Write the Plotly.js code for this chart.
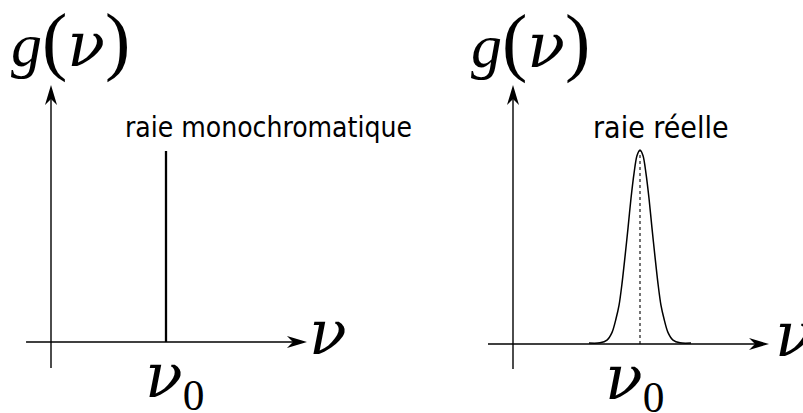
<!DOCTYPE html>
<html>
<head>
<meta charset="utf-8">
<script src="https://cdn.plot.ly/plotly-3.0.1.min.js"></script>
<style>
  html, body { margin: 0; padding: 0; background: #fff; }
  #chart { width: 803px; height: 413px; }
</style>
</head>
<body>
<div id="chart"></div>
<script>
// Line profiles g(nu): an ideal monochromatic line and a real, broadened line.
// Frequencies are in units of nu0, heights in units of the peak value.
const nu0 = 1;
const peak = 1;

// Monochromatic line: a single frequency
const monoNu = [nu0, nu0];
const monoG = [0, peak];

// Real line: profile sampled across the line
const realNu = [0.598, 0.685, 0.740, 0.780, 0.811, 0.835, 0.858, 0.882, 0.906, 0.929, 0.953, 0.976, 1.000,
                1.024, 1.047, 1.071, 1.094, 1.118, 1.142, 1.165, 1.189, 1.220, 1.260, 1.315, 1.402];
const realG = [0.005, 0.006, 0.02, 0.06, 0.13, 0.20, 0.31, 0.45, 0.60, 0.75, 0.88, 0.97, 1.00,
               0.97, 0.88, 0.75, 0.60, 0.45, 0.31, 0.20, 0.13, 0.06, 0.02, 0.006, 0.005];

// Text
const NU = '<span style="font-family:DejaVu Serif"><i>ν</i></span>';
const paren = c => '<span style="font-size:76px">' + c + '</span>';
const yLabel = '<i>g</i>' + paren('(') + NU + paren(')');
const xLabel = NU;
const centerLabel = NU + '<sub>0</sub>';
const panelTitles = ['raie monochromatique', 'raie réelle'];

const W = 803, H = 413;
const px = v => v / W;
const py = v => 1 - v / H;

const INK = '#000';
const mathFont = { family: 'Liberation Serif, DejaVu Serif, serif', size: 62, color: INK };
const titleFamily = 'DejaVu Sans Condensed, DejaVu Sans, sans-serif';

// Arrowed axes for each panel (data coordinates of that panel)
const panels = [
  { xa: 'x',  ya: 'y',  xFrom: -0.217, xTip: 2.226, yFrom: -0.136, yTip: 1.3455 },
  { xa: 'x2', ya: 'y2', xFrom: -0.197, xTip: 2.016, yFrom: -0.129, yTip: 1.335 }
];

const shapes = [];
panels.forEach(p => {
  shapes.push({ type: 'line', xref: p.xa, yref: p.ya, x0: p.xFrom, x1: p.xTip - 0.05, y0: 0, y1: 0,
                line: { color: INK, width: 1.4 } });
  shapes.push({ type: 'line', xref: p.xa, yref: p.ya, x0: 0, x1: 0, y0: p.yFrom, y1: p.yTip - 0.03,
                line: { color: INK, width: 1.4 } });
  // stealth arrow heads, sized in pixels
  shapes.push({ type: 'path', xref: p.xa, yref: p.ya, xsizemode: 'pixel', ysizemode: 'pixel',
                xanchor: p.xTip, yanchor: 0, path: 'M0,0 L-20,6 L-14,0 L-20,-6 Z',
                fillcolor: INK, line: { width: 0 } });
  shapes.push({ type: 'path', xref: p.xa, yref: p.ya, xsizemode: 'pixel', ysizemode: 'pixel',
                xanchor: 0, yanchor: p.yTip, path: 'M0,0 L6,-20 L0,-14 L-6,-20 Z',
                fillcolor: INK, line: { width: 0 } });
});

const traces = [
  { x: monoNu, y: monoG, xaxis: 'x', yaxis: 'y', mode: 'lines',
    line: { color: INK, width: 2.3 }, hoverinfo: 'skip' },
  { x: [nu0, nu0], y: [0, peak], xaxis: 'x2', yaxis: 'y2', mode: 'lines',
    line: { color: INK, width: 1.1, dash: '3px,3px' }, hoverinfo: 'skip' },
  { x: realNu, y: realG, xaxis: 'x2', yaxis: 'y2', mode: 'lines',
    line: { color: INK, width: 1.5, shape: 'spline', smoothing: 0.8 }, hoverinfo: 'skip' }
];

const ann = (text, x, y, font, xanchor) => ({
  text, xref: 'paper', yref: 'paper', x: px(x), y: py(y),
  xanchor: xanchor || 'center', yanchor: 'middle', showarrow: false, font
});

const annotations = [
  ann(yLabel, 70, 40, mathFont),
  ann(yLabel, 530, 41, mathFont),
  ann(xLabel, 328, 332, mathFont),
  ann(xLabel, 773, 334, mathFont, 'left'),
  ann(centerLabel, 174, 379, mathFont),
  ann(centerLabel, 634, 381, mathFont),
  ann(panelTitles[0], 268, 127, { family: titleFamily, size: 28, color: INK }),
  ann(panelTitles[1], 661, 127, { family: titleFamily, size: 30, color: INK })
];

const hidden = { visible: false, fixedrange: true };

const layout = {
  width: W, height: H,
  margin: { l: 0, r: 0, t: 0, b: 0 },
  paper_bgcolor: '#fff', plot_bgcolor: '#fff',
  showlegend: false,
  xaxis:  Object.assign({ domain: [0, 0.5], range: [-0.4435, 3.0478] }, hidden),
  yaxis:  Object.assign({ domain: [0, 1], range: [-0.3717, 1.7906] }, hidden),
  xaxis2: Object.assign({ domain: [0.5, 1], range: [-0.878, 2.2835], anchor: 'y2' }, hidden),
  yaxis2: Object.assign({ domain: [0, 1], range: [-0.3557, 1.7732], anchor: 'x2' }, hidden),
  shapes, annotations
};

Plotly.newPlot('chart', traces, layout, { staticPlot: true, displayModeBar: false });
</script>
</body>
</html>
